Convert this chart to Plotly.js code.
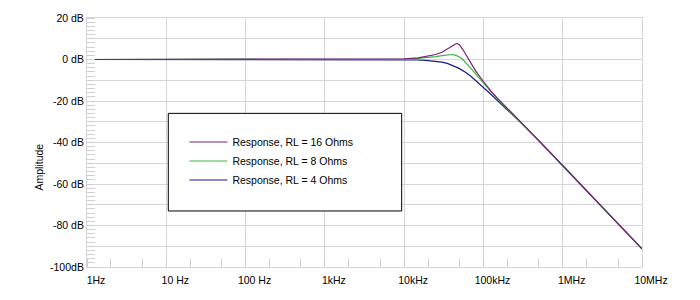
<!DOCTYPE html>
<html>
<head>
<meta charset="utf-8">
<script src="https://cdn.plot.ly/plotly-3.0.1.min.js"></script>
<style>html,body{margin:0;padding:0;background:#fff;}#chart{width:700px;height:300px;}</style>
</head>
<body>
<div id="chart"></div>
<script>
// Frequencies (Hz)
var freq = [1, 10, 100, 1000, 5000, 10000, 15000, 20000, 25000, 30000, 35000, 40000, 45000, 47000, 50000, 55000, 60000, 70000, 80000, 100000, 123000, 150000, 200000, 300000, 500000, 1000000, 2000000, 5000000, 10000000];
// Amplitude (dB)
var respRL16 = [0, 0, 0, 0, 0.1, 0.35, 0.8, 1.5, 2.4, 3.5, 5.0, 6.6, 7.6, 7.7, 7.0, 4.8, 2.3, -2.2, -5.6, -10.6, -15.0, -18.6, -23.4, -30.3, -39.1, -51.1, -63.2, -79.2, -91.3];
var respRL8 = [0, 0, 0, 0, 0.05, 0.25, 0.55, 0.95, 1.4, 1.9, 2.3, 2.4, 2.0, 1.7, 1.2, 0.0, -1.5, -4.4, -7.1, -11.4, -15.6, -19.0, -23.8, -30.4, -39.1, -51.1, -63.2, -79.2, -91.3];
var respRL4 = [0, 0, 0, 0, -0.02, -0.1, -0.25, -0.5, -0.85, -1.3, -1.9, -2.65, -3.5, -3.9, -4.4, -5.3, -6.3, -8.2, -10.1, -13.4, -16.6, -19.8, -24.2, -30.6, -39.2, -51.1, -63.2, -79.2, -91.3];
var seriesNames = ["Response, RL = 16 Ohms", "Response, RL = 8 Ohms", "Response, RL = 4 Ohms"];
var xTickVals = [1, 10, 100, 1000, 10000, 100000, 1000000, 10000000];
var xTickText = ["1Hz", "10 Hz", "100 Hz", "1kHz", "10kHz", "100kHz", "1MHz", "10MHz"];
var yTickVals = [20, 10, 0, -10, -20, -30, -40, -50, -60, -70, -80, -90, -100];
var yTickText = ["20 dB", "", "0 dB", "", "-20 dB", "", "-40 dB", "", "-60 dB", "", "-80 dB", "", "-100dB"];

var colors = ["#7a1f7a", "#3cb83c", "#1b1b85"];
var font = "Arial, 'Liberation Sans', sans-serif";

var traces = [
  {x: freq, y: respRL4, name: seriesNames[2], type: "scatter", mode: "lines", line: {color: colors[2], width: 1.2}},
  {x: freq, y: respRL8, name: seriesNames[1], type: "scatter", mode: "lines", line: {color: colors[1], width: 1.2}},
  {x: freq, y: respRL16, name: seriesNames[0], type: "scatter", mode: "lines", line: {color: colors[0], width: 1.2}}
];

var layout = {
  width: 700, height: 300, autosize: false,
  margin: {l: 87, r: 58, t: 18, b: 33, pad: 0},
  paper_bgcolor: "#fff", plot_bgcolor: "#fff",
  font: {family: font, size: 10.5, color: "#000"},
  showlegend: true,
  legend: {
    x: 0.1755, xanchor: "left", y: 0.4257, yanchor: "middle",
    bgcolor: "rgba(0,0,0,0)", borderwidth: 0,
    traceorder: "reversed", itemwidth: 38,
    font: {family: font, size: 10.5, color: "#000"}
  },
  xaxis: {
    type: "log", range: [0, 7],
    tickvals: xTickVals, ticktext: xTickText, ticks: "",
    ticklabelshift: 9, ticklabelstandoff: 3,
    showgrid: true, gridcolor: "#d6d6d6", gridwidth: 1,
    showline: true, linecolor: "#d6d6d6", linewidth: 1, mirror: true,
    zeroline: false,
    minor: {ticks: "inside", ticklen: 8, tickcolor: "#cfcfcf", showgrid: false},
    tickfont: {family: font, size: 10.5, color: "#000"}
  },
  yaxis: {
    range: [-100, 20],
    tickvals: yTickVals, ticktext: yTickText, ticks: "",
    showgrid: true, gridcolor: "#d6d6d6", gridwidth: 1,
    showline: true, linecolor: "#d6d6d6", linewidth: 1, mirror: true,
    zeroline: false,
    minor: {dtick: 2, ticks: "inside", ticklen: 8, tickcolor: "#cfcfcf", showgrid: false},
    tickfont: {family: font, size: 10.5, color: "#000"}
  },
  shapes: [
    {type: "rect", xref: "paper", yref: "paper", x0: 0.1465, x1: 0.567, y0: 0.225, y1: 0.617,
     line: {color: "#000", width: 1}, fillcolor: "#fff", layer: "above"}
  ],
  annotations: [
    {text: "Amplitude", xref: "paper", yref: "paper", x: -0.0865, y: 0.4036,
     xanchor: "center", yanchor: "middle", textangle: -90, showarrow: false,
     font: {family: font, size: 10.5, color: "#000"}}
  ]
};

Plotly.newPlot("chart", traces, layout, {displayModeBar: false, staticPlot: true});
</script>
</body>
</html>
